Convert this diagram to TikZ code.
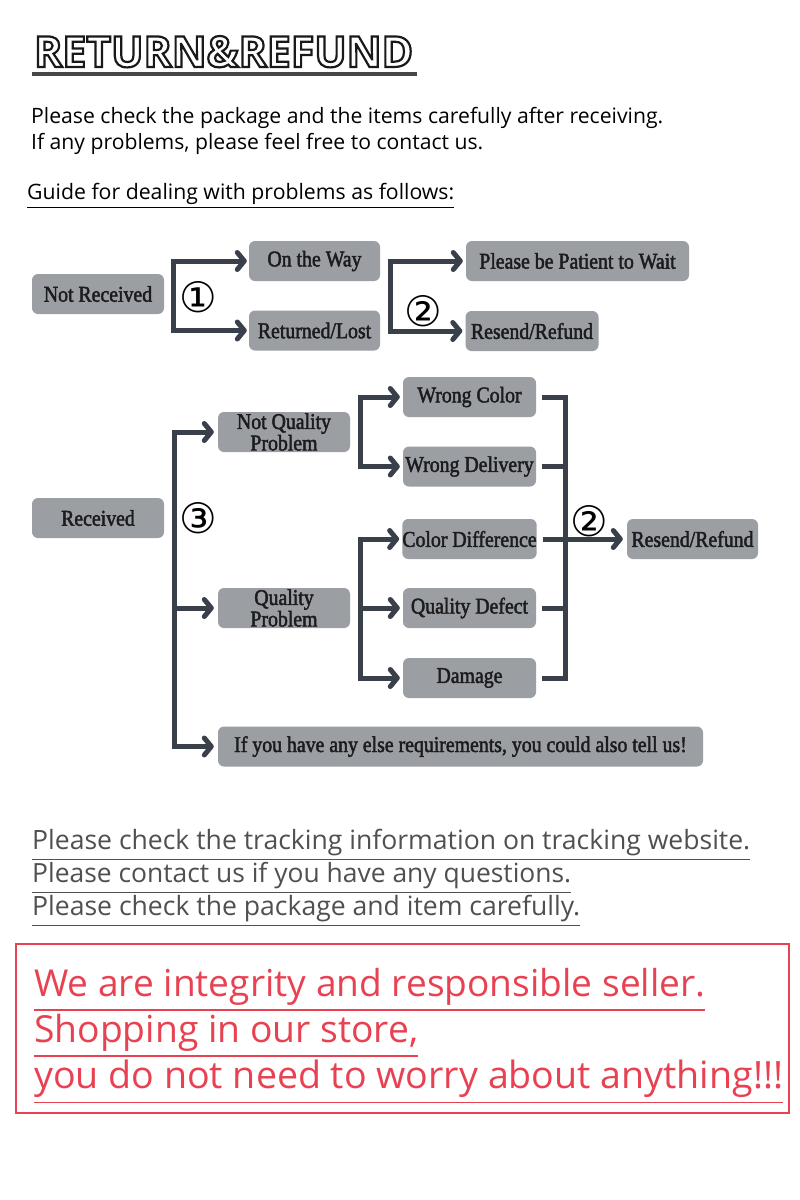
\documentclass[tikz,border=0pt]{standalone}
\usepackage{fontspec}
\usepackage{graphicx}
\usetikzlibrary{arrows.meta}
\setmainfont{Open Sans}
\newfontfamily\boxfont[FakeStretch=0.88,FakeBold=2]{Liberation Serif}
\newfontfamily\symfont{DejaVu Sans}
\newfontfamily\titlefont{Open Sans}
\definecolor{boxgray}{RGB}{155,158,163}
\definecolor{conncol}{RGB}{58,64,74}
\definecolor{boxtext}{RGB}{28,28,30}
\definecolor{graytext}{RGB}{80,80,80}
\definecolor{redc}{RGB}{232,66,82}
\newcommand\outlinetext[1]{\special{pdf:literal direct 1 Tr 2.3 w}#1\special{pdf:literal direct 0 Tr}}
\tikzset{
  >={Straight Barb[length=7pt,width=17pt,round]},
  gbox/.style={fill=boxgray, rounded corners=6pt, inner sep=0pt, minimum width=132pt, minimum height=40pt,
    text=boxtext, align=center, font=\boxfont\fontsize{22.5}{18}\selectfont},
  conn/.style={draw=conncol, line width=5pt},
  num/.style={inner sep=0pt, font=\symfont\fontsize{42}{42}\selectfont},
  txt/.style={anchor=base west, inner sep=0pt}
}
\begin{document}
\begin{tikzpicture}[x=1pt,y=-1pt]
\fill[white] (0,0) rectangle (800,1200);
\useasboundingbox (0,0) rectangle (800,1200);

% title
\node[txt, text=black!90, font=\titlefont\bfseries\fontsize{45}{45}\selectfont] (title) at (34,67) {\resizebox{379pt}{!}{\outlinetext{RETURN\&REFUND}}};
\draw[line width=4pt, draw=black!72] (32,74) -- (417,74);

% intro text
\node[txt] (t1) at (31,123) {\resizebox{632pt}{!}{Please check the package and the items carefully after receiving.}};
\node[txt] (t2) at (31,149) {\resizebox{452pt}{!}{If any problems, please feel free to contact us.}};
\node[txt] (t3) at (27,199) {\resizebox{427pt}{!}{\underline{Guide for dealing with problems as follows:}}};

% top flow
\node[gbox] (nr) at (98,294) {Not Received};
\node[gbox, minimum width=131pt] (otw) at (314.5,261) {On the Way};
\node[gbox, minimum width=131pt] (rl) at (314.5,330.5) {Returned/Lost};
\node[gbox, minimum width=223pt] (pw) at (577.5,261) {Please be Patient to Wait};
\node[gbox, minimum width=133pt] (rr1) at (532,331) {Resend/Refund};

\coordinate (b1) at (173,294);
\coordinate (b2) at (390,295);
\draw[conn,<->,shorten <=2pt,shorten >=2pt] (otw.west) -| (b1) |- (rl.west);
\draw[conn,<->,shorten <=3pt,shorten >=3pt] (pw.west) -| (b2) |- (rr1.west);
\node[num] (n1) at (198,297) {①};
\node[num] (n2) at (423,311) {②};

% middle flow
\node[gbox] (rec) at (98,518) {Received};
\node[gbox] (nqp) at (284,432) {Not Quality\\Problem};
\node[gbox] (qp) at (284,608) {Quality\\Problem};
\node[gbox, minimum width=133pt] (wc) at (469.5,397) {Wrong Color};
\node[gbox, minimum width=133pt] (wd) at (469.5,466.5) {Wrong Delivery};
\node[gbox, minimum width=133pt] (cd) at (469.5,539) {Color Difference};
\node[gbox, minimum width=133pt] (qd) at (469.5,608) {Quality Defect};
\node[gbox, minimum width=133pt] (dm) at (469.5,678) {Damage};
\node[gbox, minimum width=131pt] (rr2) at (692.5,539) {Resend/Refund};
\node[gbox, minimum width=485pt] (req) at (460.5,746.5) {If you have any else requirements, you could also tell us!};

\coordinate (b3) at (174,518);
\coordinate (b4) at (360,432);
\coordinate (b5) at (360,608);
\coordinate (b6) at (565.5,539);
\draw[conn,<->,shorten <=4pt,shorten >=4pt] (nqp.west) -| (b3) |- (req.west);
\draw[conn,->,shorten >=4pt] (qp.west -| b3) -- (qp.west);
\draw[conn,<->,shorten <=3pt,shorten >=3pt] (wc.west) -| (b4) |- (wd.west);
\draw[conn,<->,shorten <=3pt,shorten >=3pt] (cd.west) -| (b5) |- (dm.west);
\draw[conn,->,shorten >=3pt] (qd.west -| b5) -- (qd.west);
\draw[conn] ([xshift=6pt]wc.east) -| (b6) |- ([xshift=6pt]dm.east);
\draw[conn] ([xshift=6pt]wd.east) -- (wd.east -| b6);
\draw[conn] ([xshift=6pt]qd.east) -- (qd.east -| b6);
\draw[conn,->,shorten >=4pt] ([xshift=6pt]cd.east) -- (rr2.west);
\node[num] (n3) at (198,518) {③};
\node[num] (n4) at (589,521) {②};

% bottom notes
\node[txt, text=graytext] (g1) at (32,849) {\resizebox{718pt}{!}{\underline{Please check the tracking information on tracking website.}}};
\node[txt, text=graytext] (g2) at (32,882) {\resizebox{539pt}{!}{\underline{Please contact us if you have any questions.}}};
\node[txt, text=graytext] (g3) at (32,915) {\resizebox{548pt}{!}{\underline{Please check the package and item carefully.}}};

\node[draw=redc, line width=2pt, minimum width=773pt, minimum height=169pt, inner sep=0pt] (redbox) at (402.5,1028.5) {};
\node[txt, text=redc] (r1) at (34,996) {\resizebox{671pt}{!}{\underline{We are integrity and responsible seller.}}};
\node[txt, text=redc] (r2) at (34,1042) {\resizebox{384pt}{!}{\underline{Shopping in our store,}}};
\node[txt, text=redc] (r3) at (34,1088) {\resizebox{749pt}{!}{\underline{you do not need to worry about anything!!!}}};
\end{tikzpicture}
\end{document}
